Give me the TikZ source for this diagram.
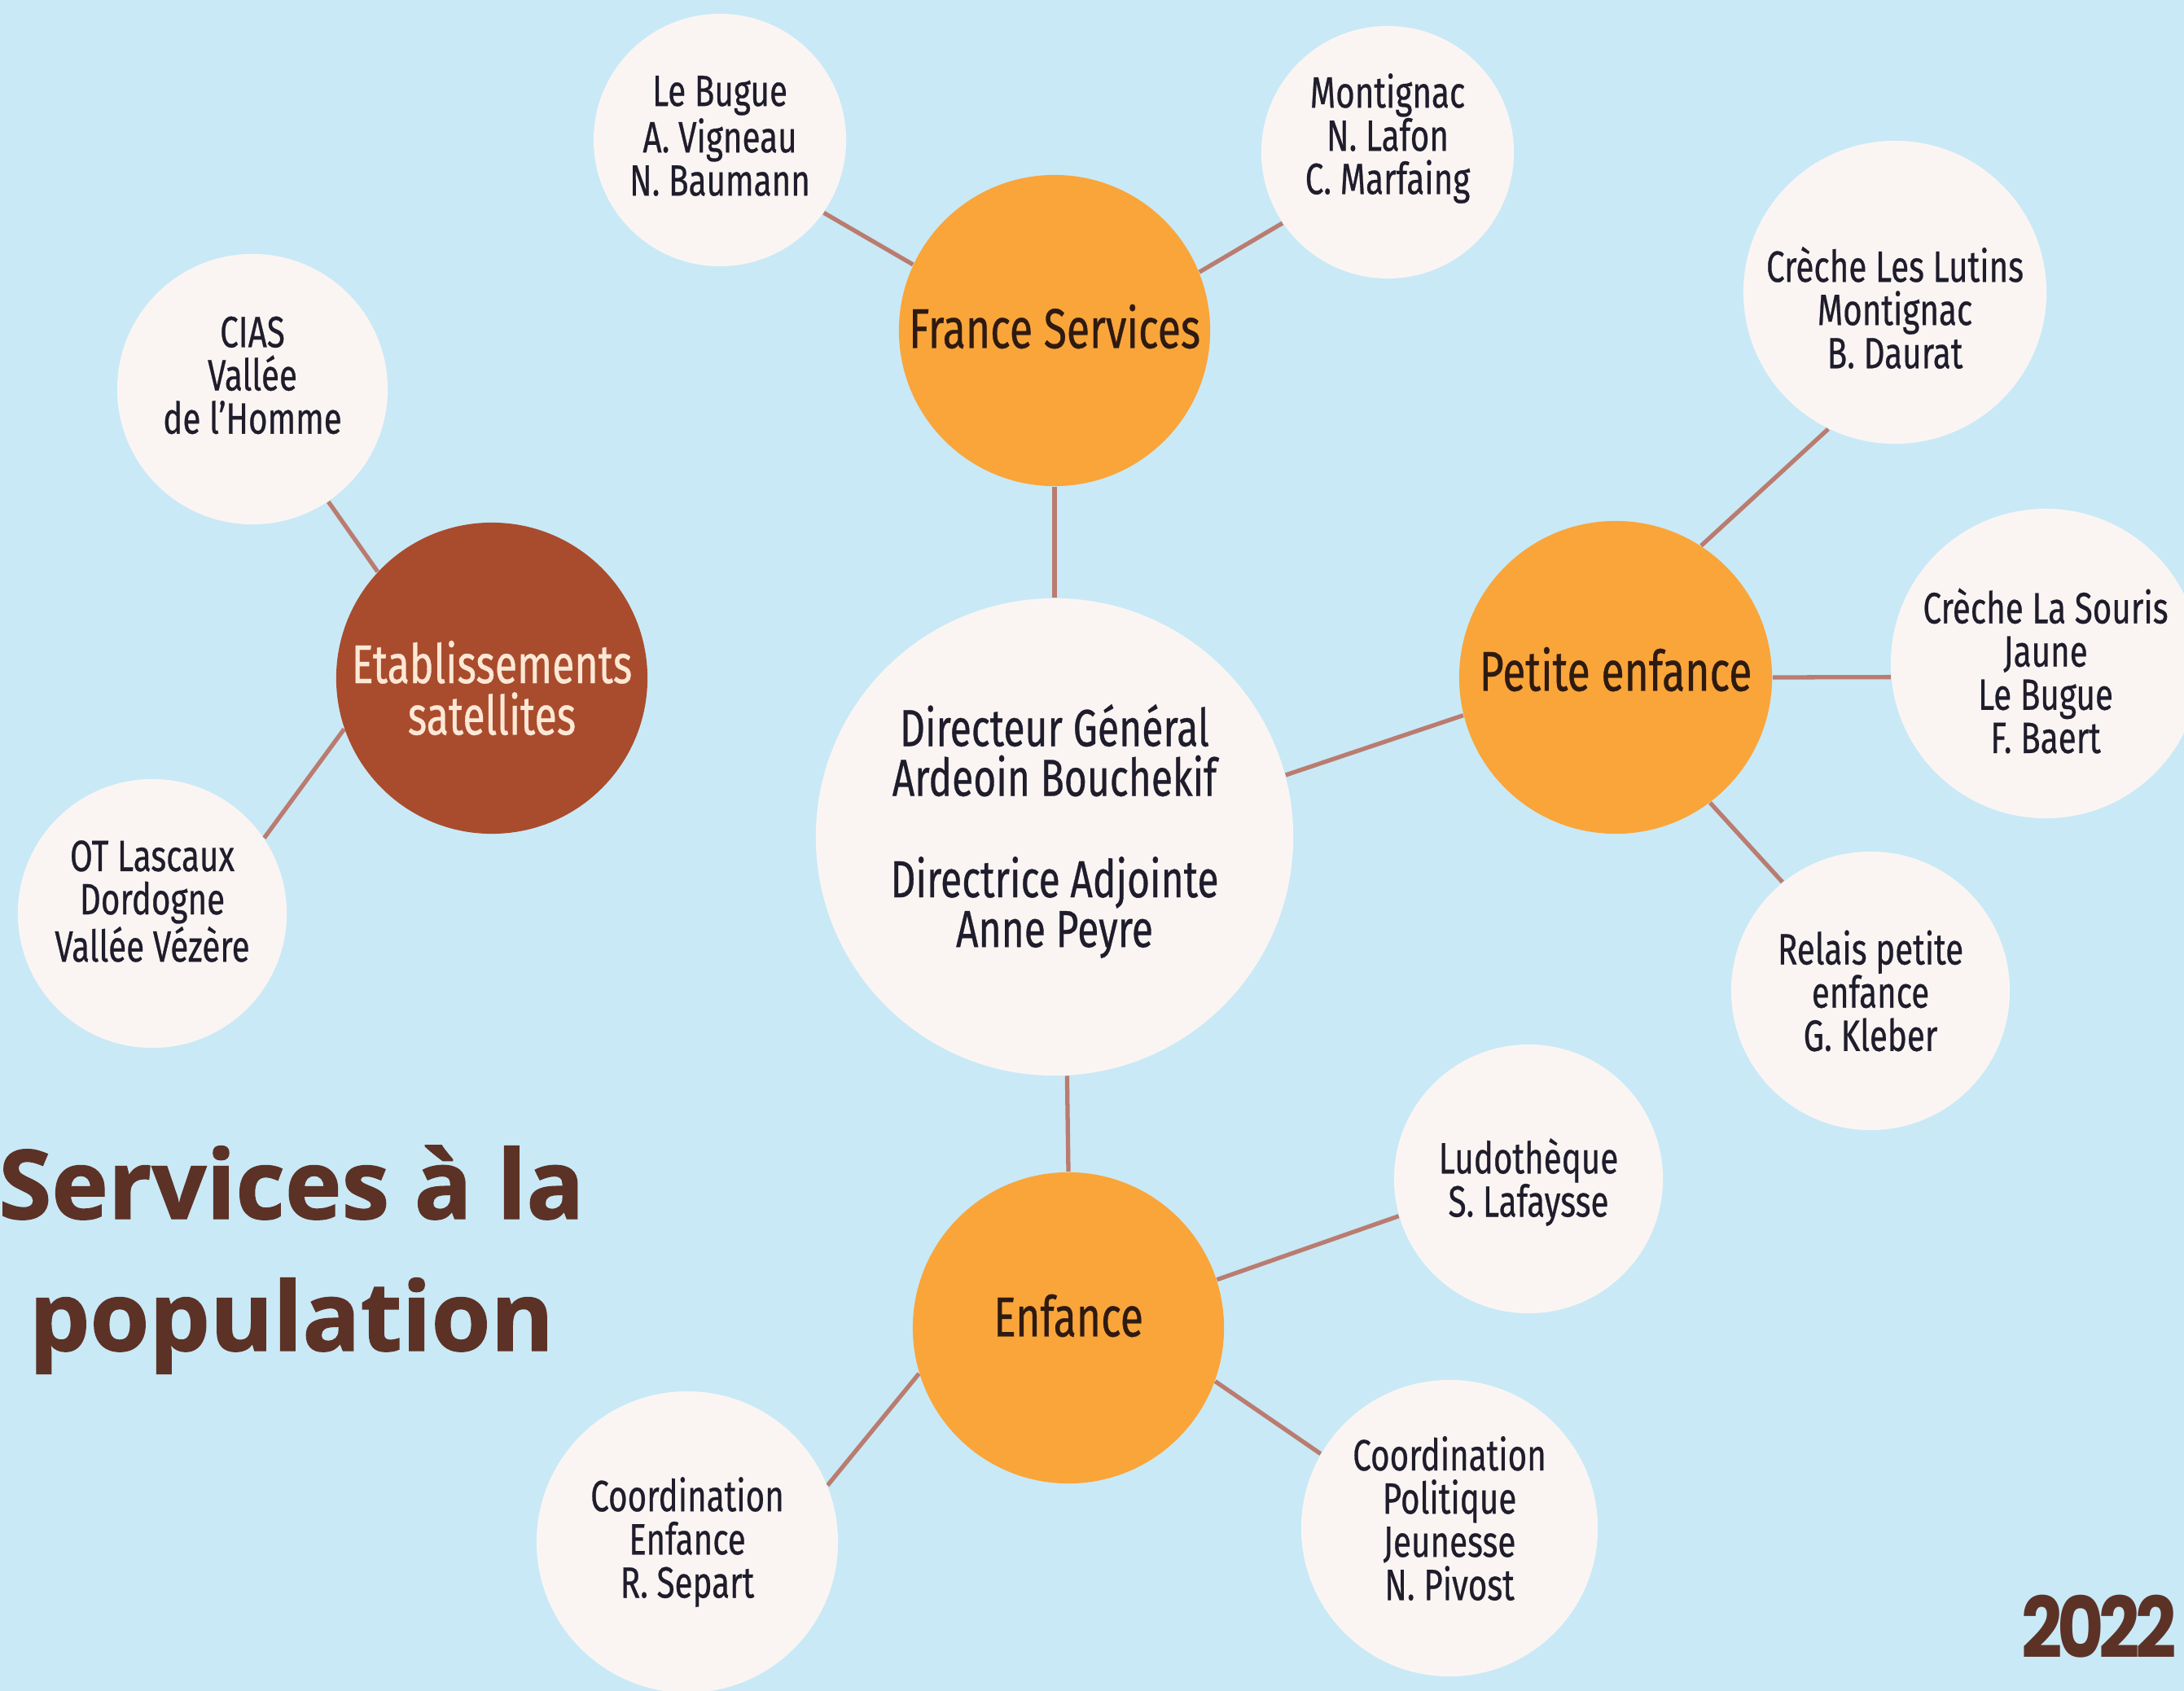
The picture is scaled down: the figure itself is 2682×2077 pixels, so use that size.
\documentclass[tikz,border=0pt]{standalone}
\usepackage{fontspec}
\setmainfont[FakeStretch=0.75,FakeBold=0.5]{Fira Sans}
\newfontfamily\titlefont[FakeStretch=1.0,FakeBold=1.2]{Open Sans}
\newfontfamily\yearfont[FakeStretch=0.85,LetterSpace=-6]{Poppins}
\definecolor{bgblue}{HTML}{C9E9F6}
\definecolor{cwhite}{HTML}{FAF5F3}
\definecolor{corange}{HTML}{F9A53A}
\definecolor{cbrown}{HTML}{A94C2D}
\definecolor{cline}{HTML}{BA7C70}
\definecolor{ctext}{HTML}{1F1D2B}
\definecolor{cdark}{HTML}{2E1A10}
\definecolor{ccream}{HTML}{FDE8D6}
\definecolor{ctitle}{HTML}{5C3226}
\pgfdeclarelayer{bg}
\pgfdeclarelayer{lines}
\pgfsetlayers{bg,lines,main}
\tikzset{
  bubble/.style={circle, inner sep=0pt},
  leaf/.style={bubble, fill=cwhite},
  catc/.style={bubble, fill=corange},
  txt/.style={inner sep=0pt, align=center},
  subtxt/.style={txt, text=ctext, font=\fontsize{15.3}{15.1}\selectfont},
  cattxt/.style={txt, text=cdark, font=\fontsize{19.6}{17.6}\selectfont},
  conn/.style={draw=cline, line width=1.5pt}
}
\begin{document}
\begin{tikzpicture}[x=0.01cm,y=-0.01cm]
\begin{pgfonlayer}{bg}
\fill[bgblue] (0,0) rectangle (2682,2077);
\end{pgfonlayer}
\useasboundingbox (0,0) rectangle (2682,2077);

% circles
\node[leaf, minimum size=5.86cm] (ctr) at (1295,1028) {};
\node[catc, minimum size=3.82cm] (fs) at (1295,406) {};
\node[catc, minimum size=3.84cm] (pe) at (1984,832) {};
\node[catc, minimum size=3.82cm] (enf) at (1312,1631) {};
\node[bubble, fill=cbrown, minimum size=3.82cm] (etab) at (604,833) {};
\node[leaf, minimum size=3.10cm] (leb) at (884,172) {};
\node[leaf, minimum size=3.10cm] (mon) at (1704,187) {};
\node[leaf, minimum size=3.32cm] (cias) at (310,478) {};
\node[leaf, minimum size=3.30cm] (ot) at (187,1122) {};
\node[leaf, minimum size=3.72cm] (lut) at (2327,359) {};
\node[leaf, minimum size=3.80cm] (sou) at (2512,815) {};
\node[leaf, minimum size=3.42cm] (rel) at (2297,1217) {};
\node[leaf, minimum size=3.30cm] (ludo) at (1877,1448) {};
\node[leaf, minimum size=3.70cm] (coe) at (844,1894) {};
\node[leaf, minimum size=3.64cm] (cop) at (1780,1877) {};

% texts
\node[txt, text=ctext, font=\fontsize{18.2}{17.4}\selectfont] (ctrt) at ([yshift=0.07cm]ctr.center)
  {Directeur Général\\Ardeoin Bouchekif\\[18pt]Directrice Adjointe\\Anne Peyre};
\node[cattxt] (fst) at ([yshift=0.05cm]fs.center) {France Services};
\node[cattxt] (pet) at ([yshift=0.10cm]pe.center) {Petite enfance};
\node[cattxt] (enft) at ([yshift=0.15cm]enf.center) {Enfance};
\node[txt, text=ccream, font=\fontsize{19}{18}\selectfont] (etabt) at ([yshift=-0.12cm]etab.center) {Etablissements\\satellites};
\node[subtxt] (lebt) at ([yshift=0.05cm]leb.center) {Le Bugue\\A. Vigneau\\N. Baumann};
\node[subtxt] (mont) at ([yshift=0.17cm]mon.center) {Montignac\\N. Lafon\\C. Marfaing};
\node[subtxt] (ciast) at ([yshift=0.17cm]cias.center) {CIAS\\Vallée\\de l'Homme};
\node[subtxt] (ott) at ([yshift=0.15cm]ot.center) {OT Lascaux\\Dordogne\\Vallée Vézère};
\node[subtxt] (lutt) at ([yshift=-0.19cm]lut.center) {Crèche Les Lutins\\Montignac\\B. Daurat};
\node[subtxt] (sout) at ([yshift=-0.09cm]sou.center) {Crèche La Souris\\Jaune\\Le Bugue\\F. Baert};
\node[subtxt] (relt) at (rel.center) {Relais petite\\enfance\\G. Kleber};
\node[subtxt] (ludot) at ([yshift=-0.04cm]ludo.center) {Ludothèque\\S. Lafaysse};
\node[subtxt] (coet) at (coe.center) {Coordination\\Enfance\\R. Separt};
\node[subtxt] (copt) at ([yshift=0.12cm]cop.center) {Coordination\\Politique\\Jeunesse\\N. Pivost};

% title and year
\node[anchor=base, text=ctitle, font=\titlefont\bfseries\fontsize{33.5}{40}\selectfont] (t1) at (358,1497) {Services à la};
\node[anchor=base, text=ctitle, font=\titlefont\bfseries\fontsize{33.5}{40}\selectfont] (t2) at (358,1659) {population};
\node[anchor=base east, inner sep=0pt, text=ctitle, font=\yearfont\bfseries\fontsize{29.5}{30}\selectfont] (yr) at (2673,2036) {2022};

% connectors
\begin{pgfonlayer}{lines}
\draw[conn] (ctr.north) -- (fs.south);
\draw[conn] (ctr.-87.5) -- (enf.90.5);
\draw[conn] (ctr.15) -- (pe.194);
\draw[conn] (fs.155.7) -- (leb.-35.6);
\draw[conn] (fs.22) -- (mon.214.7);
\draw[conn] (etab.137) -- (cias.-56.3);
\draw[conn] (etab.199.6) -- (ot.34.8);
\draw[conn] (pe.57.3) -- (lut.244.6);
\draw[conn] (pe.east) -- (sou.185);
\draw[conn] (pe.-53.8) -- (rel.129.2);
\draw[conn] (enf.18) -- (ludo.196.9);
\draw[conn] (enf.197.7) -- (coe.22.8);
\draw[conn] (enf.-20.3) -- (cop.150.4);
\end{pgfonlayer}
\end{tikzpicture}
\end{document}
